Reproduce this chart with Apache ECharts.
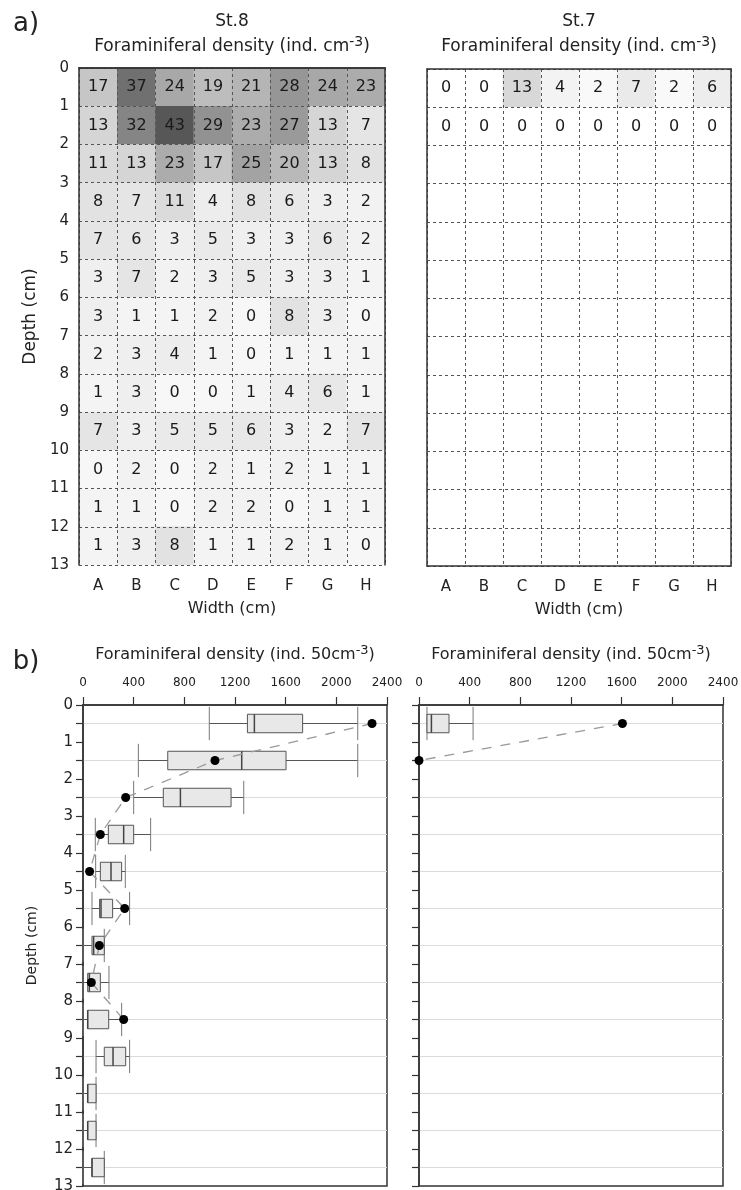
<!DOCTYPE html>
<html><head><meta charset="utf-8">
<script src="https://cdn.jsdelivr.net/npm/echarts@6/dist/echarts.min.js"></script>
<style>html,body{margin:0;padding:0;background:#fff}#c{width:741px;height:1190px}</style>
</head><body><div id="c"></div>
<script>
// ---- data ----
const columns = ['A','B','C','D','E','F','G','H'];
const depthRows = ['0-1','1-2','2-3','3-4','4-5','5-6','6-7','7-8','8-9','9-10','10-11','11-12','12-13'];
const depthCenters = [0.5,1.5,2.5,3.5,4.5,5.5,6.5,7.5,8.5,9.5,10.5,11.5,12.5];
const st8Density = [
  [17,37,24,19,21,28,24,23],
  [13,32,43,29,23,27,13,7],
  [11,13,23,17,25,20,13,8],
  [8,7,11,4,8,6,3,2],
  [7,6,3,5,3,3,6,2],
  [3,7,2,3,5,3,3,1],
  [3,1,1,2,0,8,3,0],
  [2,3,4,1,0,1,1,1],
  [1,3,0,0,1,4,6,1],
  [7,3,5,5,6,3,2,7],
  [0,2,0,2,1,2,1,1],
  [1,1,0,2,2,0,1,1],
  [1,3,8,1,1,2,1,0]
];
const st7Density = [
  [0,0,13,4,2,7,2,6],
  [0,0,0,0,0,0,0,0]
];
// box plots per depth: [low, q1, median, q3, high]
const st8Box = [
  [997,1298,1353,1734,2169],
  [437,669,1253,1603,2169],
  [400,634,769,1169,1269],
  [97,200,321,400,534],
  [100,137,221,305,334],
  [71,131,142,234,368],
  [0,71,84,168,168],
  [0,37,50,137,205],
  [0,37,37,203,305],
  [103,168,237,337,368],
  [0,37,37,103,103],
  [0,37,37,103,103],
  [0,71,71,168,168]
];
const st8Dots = [2282,1042,337,137,52,329,129,66,321];
const st7Box = [[63,63,98,237,427]];
const st7Dots = [1606,0];

// ---- build ----
const FF = '"DejaVu Sans", Verdana, sans-serif';
function heatData(m){const out=[];m.forEach((row,r)=>row.forEach((v,c)=>out.push([c,r,v])));return out;}
function boxData(b){return b.map((q,i)=>[depthCenters[i]].concat(q));}
function dotData(d){return d.map((v,i)=>[v,depthCenters[i]]);}

function renderBox(params, api){
  const d = api.value(0);
  const lo = api.coord([api.value(1), d]);
  const q1 = api.coord([api.value(2), d]);
  const md = api.coord([api.value(3), d]);
  const q3 = api.coord([api.value(4), d]);
  const hi = api.coord([api.value(5), d]);
  const row = api.size([0,1])[1];
  const bh = row*0.5, ch = row*0.9, y = lo[1];
  const ln=(x1,y1,x2,y2,w,c)=>({type:'line',shape:{x1,y1,x2,y2},style:{stroke:c,lineWidth:w}});
  return {type:'group',children:[
    ln(lo[0],y,q1[0],y,1,'#555'),
    ln(q3[0],y,hi[0],y,1,'#555'),
    ln(lo[0],y-ch/2,lo[0],y+ch/2,1,'#777'),
    ln(hi[0],y-ch/2,hi[0],y+ch/2,1,'#777'),
    {type:'rect',shape:{x:q1[0],y:y-bh/2,width:q3[0]-q1[0],height:bh},style:{fill:'#e8e8e8',stroke:'#555',lineWidth:1}},
    ln(md[0],y-bh/2,md[0],y+bh/2,1.5,'#444')
  ]};
}

const axisLineStyle = {show:true, lineStyle:{color:'#333', width:1.5}};
const dashSplit = {show:true, interval:0, lineStyle:{color:'#555', width:1, type:[3,3]}};

function heatAxes(g, withYLabels){
  const xs = [
    {gridIndex:g, type:'category', data:columns, position:'bottom', z:5,
     axisLine:axisLineStyle, axisTick:{show:false},
     axisLabel:{fontSize:15, color:'#222', margin:14, fontFamily:FF},
     splitLine:dashSplit,
     name:'Width (cm)', nameLocation:'middle', nameGap:36,
     nameTextStyle:{fontSize:16, color:'#222', fontFamily:FF}},
    {gridIndex:g, type:'category', data:columns, position:'top', z:5,
     axisLine:axisLineStyle, axisTick:{show:false}, axisLabel:{show:false}, splitLine:{show:false}}
  ];
  const ys = [
    {gridIndex:g, type:'category', data:depthRows, inverse:true, position:'left', z:5,
     axisLine:axisLineStyle, axisTick:{show:false}, axisLabel:{show:false}, splitLine:dashSplit},
    {gridIndex:g, type:'category', data:depthRows, inverse:true, position:'right', z:5,
     axisLine:axisLineStyle, axisTick:{show:false}, axisLabel:{show:false}, splitLine:{show:false}}
  ];
  if (withYLabels) ys.push({gridIndex:g, type:'value', min:0, max:13, interval:1, inverse:true, position:'left',
     axisLine:{show:false}, axisTick:{show:false}, splitLine:{show:false},
     axisLabel:{fontSize:15, color:'#222', margin:10, fontFamily:FF},
     name:'Depth (cm)', nameLocation:'middle', nameGap:40, nameRotate:90,
     nameTextStyle:{fontSize:17, color:'#222', fontFamily:FF}});
  return {xs, ys};
}

function boxAxes(g, withYLabels){
  const x = {gridIndex:g, type:'value', min:0, max:2400, interval:400, position:'top',
     axisLine:axisLineStyle, axisTick:{show:true, length:8, lineStyle:{color:'#333', width:1.2}},
     axisLabel:{fontSize:12, color:'#222', margin:16, fontFamily:FF, formatter:v=>String(v)}, splitLine:{show:false}};
  const y = {gridIndex:g, type:'value', min:0, max:13, interval:1, inverse:true,
     axisLine:axisLineStyle, axisTick:{show:true, length:7, lineStyle:{color:'#333', width:1.2}},
     minorTick:{show:true, splitNumber:2, length:7, lineStyle:{color:'#333', width:1.2}},
     minorSplitLine:{show:true, lineStyle:{color:'#dcdcdc', width:1}},
     splitLine:{show:false},
     axisLabel:{show:withYLabels, fontSize:15, color:'#222', margin:10, fontFamily:FF}};
  if (withYLabels){ y.name='Depth (cm)'; y.nameLocation='middle'; y.nameGap=44; y.nameRotate=90;
    y.nameTextStyle={fontSize:14, color:'#222', fontFamily:FF}; }
  return {x, y};
}

const xAxes=[], yAxes=[], series=[];
const gridsPx = [
  {left:79, top:68, width:306, height:497},
  {left:427, top:69, width:304, height:497},
  {left:83, top:705, width:304, height:481, show:true, borderColor:'#333', borderWidth:1.5},
  {left:419, top:705, width:304, height:481, show:true, borderColor:'#333', borderWidth:1.5}
];
[[st8Density,true],[st7Density,false]].forEach(([m,lab],g)=>{
  const a = heatAxes(g, lab);
  const xi = xAxes.length, yi = yAxes.length;
  xAxes.push(...a.xs); yAxes.push(...a.ys);
  series.push({type:'heatmap', xAxisIndex:xi, yAxisIndex:yi, data:heatData(m),
    label:{show:true, fontSize:16, color:'#1a1a1a', fontFamily:FF, formatter:p=>p.value[2]},
    emphasis:{disabled:true}, itemStyle:{borderWidth:0}});
});
[[st8Box,st8Dots,true],[st7Box,st7Dots,false]].forEach(([b,d,lab],k)=>{
  const g = k+2;
  const a = boxAxes(g, lab);
  const xi = xAxes.length, yi = yAxes.length;
  xAxes.push(a.x); yAxes.push(a.y);
  series.push({type:'custom', xAxisIndex:xi, yAxisIndex:yi, data:boxData(b),
    encode:{x:[1,2,3,4,5], y:0}, renderItem:renderBox, z:3, silent:true});
  series.push({type:'line', xAxisIndex:xi, yAxisIndex:yi, data:dotData(d),
    symbol:'circle', symbolSize:9, showSymbol:true, itemStyle:{color:'#000'},
    lineStyle:{color:'#999', width:1.3, type:[10,9]}, z:4, silent:true});
});

const titleRich = (main, sup, size) => ({
  text:'{a|'+main+'}{s|'+sup+'}{a|)}',
  rich:{a:{fontSize:size, fontFamily:FF, fill:'#222', color:'#222', lineHeight:size+6},
        s:{fontSize:Math.round(size*0.8), fontFamily:FF, fill:'#222', color:'#222', verticalAlign:'top', lineHeight:Math.round(size*0.8)}}
});
function txt(x,y,style){return {type:'text', x, y, style:Object.assign({align:'center', verticalAlign:'middle', textAlign:'center', textVerticalAlign:'middle', fill:'#222'}, style)};}

const option = {
  animation:false,
  backgroundColor:'#fff',
  grid: gridsPx.map(g=>Object.assign({containLabel:false, outerBoundsMode:'none'}, g)),
  xAxis:xAxes, yAxis:yAxes,
  visualMap:[
    {type:'continuous', show:false, seriesIndex:0, min:0, max:43, inRange:{color:['#f7f7f7','#d2d2d2','#939393','#575757']}},
    {type:'continuous', show:false, seriesIndex:1, min:0, max:43, inRange:{color:['#ffffff','#d4d4d4','#939393','#575757']}}
  ],
  graphic:[
    txt(26,24,{text:'a)', font:'26px '+FF, fontSize:26, fontFamily:FF}),
    txt(232,22,{text:'St.8', font:'17px '+FF, fontSize:17, fontFamily:FF}),
    txt(232,47,titleRich('Foraminiferal density (ind. cm','-3',17)),
    txt(579,22,{text:'St.7', font:'17px '+FF, fontSize:17, fontFamily:FF}),
    txt(579,47,titleRich('Foraminiferal density (ind. cm','-3',17)),
    txt(26,662,{text:'b)', font:'26px '+FF, fontSize:26, fontFamily:FF}),
    txt(235,655,titleRich('Foraminiferal density (ind. 50cm','-3',16)),
    txt(571,655,titleRich('Foraminiferal density (ind. 50cm','-3',16))
  ],
  series
};
const chart = echarts.init(document.getElementById('c'), null, {renderer:'canvas'});
chart.setOption(option);
</script></body></html>
